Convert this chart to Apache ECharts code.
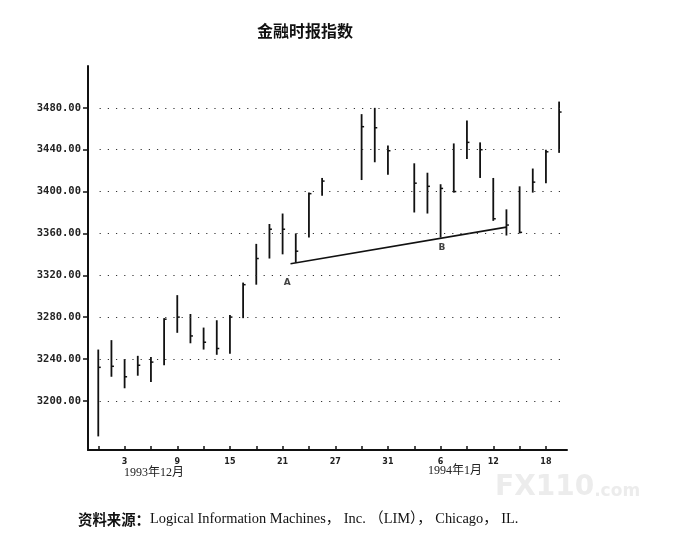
<!DOCTYPE html>
<html>
<head>
<meta charset="utf-8">
<title>金融时报指数</title>
<script src="https://cdn.jsdelivr.net/npm/echarts@6/dist/echarts.min.js"></script>
<style>
  html, body { margin: 0; padding: 0; background: #fff; }
  #main { width: 675px; height: 536px; }
</style>
</head>
<body>
<div id="main"></div>
<script>
// trading-day slots: 0 = 1993-12-01 ... 35 = 1994-01-19 (weekdays, holidays left empty)
var dayIndex = [0, 1, 2, 3, 4, 5, 6, 7, 8, 9, 10, 11, 12, 13, 14, 15, 16, 17,
                20, 21, 22, 24, 25, 26, 27, 28, 29, 30, 31, 32, 33, 34, 35];
var highs  = [3249, 3258, 3240, 3243, 3242, 3279, 3301, 3283, 3270, 3277, 3282, 3313, 3350, 3369, 3379, 3360, 3399, 3413,
              3474, 3480, 3444, 3427, 3418, 3407, 3446, 3468, 3447, 3413, 3383, 3405, 3422, 3440, 3486];
var lows   = [3166, 3223, 3212, 3224, 3218, 3234, 3265, 3255, 3249, 3244, 3245, 3279, 3311, 3336, 3340, 3332, 3356, 3396,
              3411, 3428, 3416, 3380, 3379, 3356, 3399, 3431, 3413, 3372, 3358, 3360, 3399, 3408, 3437];
var closes = [3232, 3233, 3223, 3234, 3237, 3278, 3280, 3262, 3256, 3250, 3280, 3311, 3336, 3364, 3364, 3343, 3398, 3410,
              3462, 3461, 3439, 3408, 3405, 3403, 3400, 3447, 3440, 3374, 3368, 3361, 3409, 3438, 3476];

var xTickSlots = [0, 2, 4, 6, 8, 10, 12, 14, 16, 18, 20, 22, 24, 26, 28, 30, 32, 34];
var xLabelSlots = [2, 6, 10, 14, 18, 22, 26, 30, 34];
var xLabelTexts = ['3', '9', '15', '21', '27', '31', '6', '12', '18'];
var yTicks = [3200, 3240, 3280, 3320, 3360, 3400, 3440, 3480];

var trendLine = [[14.6, 3331], [31, 3366]];
var pointNames = ['A', 'B'];
var pointPos = [[14.35, 3313], [26.1, 3346]];

var barData = [];
for (var i = 0; i < dayIndex.length; i++) {
    barData.push([dayIndex[i], highs[i], lows[i], closes[i]]);
}

var myChart = echarts.init(document.getElementById('main'));

var option = {
    backgroundColor: '#fff',
    animation: false,
    title: {
        text: '金融时报指数',
        left: 300,
        top: 18,
        textAlign: 'center',
        textStyle: {
            fontFamily: 'Noto Sans CJK SC',
            fontSize: 16,
            fontWeight: 'bold',
            color: '#111'
        }
    },
    grid: {
        left: 88,
        top: 66,
        right: 108,
        bottom: 86
    },
    xAxis: {
        type: 'value',
        min: -0.78,
        max: 35.6,
        axisLine: { onZero: false, lineStyle: { color: '#111', width: 2 } },
        axisTick: {
            inside: true,
            length: 4,
            customValues: xTickSlots,
            lineStyle: { color: '#111', width: 1.5 }
        },
        axisLabel: {
            customValues: xLabelSlots,
            margin: 8,
            fontFamily: 'DejaVu Sans',
            fontSize: 8,
            fontWeight: 'bold',
            color: '#222',
            formatter: function (v) {
                var k = xLabelSlots.indexOf(Math.round(v));
                return k >= 0 ? xLabelTexts[k] : '';
            }
        },
        splitLine: { show: false }
    },
    yAxis: {
        type: 'value',
        min: 3153,
        max: 3520,
        axisLine: { show: true, onZero: false, lineStyle: { color: '#111', width: 2 } },
        axisTick: {
            show: true,
            length: 5,
            customValues: yTicks,
            lineStyle: { color: '#111', width: 1.5 }
        },
        axisLabel: {
            customValues: yTicks,
            margin: 7,
            fontFamily: 'DejaVu Sans Mono',
            fontSize: 10.5,
            fontWeight: 'bold',
            color: '#222',
            formatter: function (v) { return v.toFixed(2); }
        },
        splitLine: { show: false }
    },
    series: [
        {
            name: 'FT',
            type: 'custom',
            data: barData,
            renderItem: function (params, api) {
                var x = api.value(0);
                var hi = api.coord([x, api.value(1)]);
                var lo = api.coord([x, api.value(2)]);
                var cl = api.coord([x, api.value(3)]);
                return {
                    type: 'group',
                    children: [
                        {
                            type: 'line',
                            shape: { x1: hi[0], y1: hi[1], x2: lo[0], y2: lo[1] },
                            style: { stroke: '#111', lineWidth: 1.8 }
                        },
                        {
                            type: 'line',
                            shape: { x1: cl[0], y1: cl[1], x2: cl[0] + 2.5, y2: cl[1] },
                            style: { stroke: '#111', lineWidth: 1.5 }
                        }
                    ]
                };
            },
            markLine: {
                silent: true,
                symbol: 'none',
                label: { show: false },
                lineStyle: { color: '#333', width: 1.2, type: [1.2, 7] },
                data: yTicks.map(function (v) {
                    return [{ coord: [0.1, v] }, { coord: [35.2, v] }];
                })
            }
        },
        {
            name: 'trend',
            type: 'line',
            data: trendLine,
            symbol: 'none',
            lineStyle: { color: '#111', width: 1.6 }
        },
        {
            name: 'points',
            type: 'scatter',
            symbolSize: 0,
            data: pointPos.map(function (p, k) { return { value: p, name: pointNames[k] }; }),
            label: {
                show: true,
                position: 'inside',
                formatter: '{b}',
                fontFamily: 'DejaVu Sans',
                fontSize: 9,
                fontWeight: 'bold',
                color: '#111'
            }
        }
    ],
    graphic: [
        {
            type: 'text',
            left: 124,
            top: 467,
            style: {
                text: '1993年12月',
                font: '12px "Liberation Serif", "Noto Sans CJK SC"',
                fill: '#222'
            }
        },
        {
            type: 'text',
            left: 428,
            top: 465,
            style: {
                text: '1994年1月',
                font: '12px "Liberation Serif", "Noto Sans CJK SC"',
                fill: '#222'
            }
        },
        {
            type: 'text',
            left: 495,
            top: 474,
            style: {
                text: '{a|FX110}{b|.com}',
                rich: {
                    a: { fontFamily: 'DejaVu Sans', fontSize: 28, fontWeight: 'bold', fill: '#ececec' },
                    b: { fontFamily: 'DejaVu Sans', fontSize: 17, fontWeight: 'bold', fill: '#ececec', padding: [8, 0, 0, 0] }
                }
            }
        },
        {
            type: 'text',
            left: 78,
            top: 512,
            style: {
                text: '{a|资料来源：}{b|Logical Information Machines， Inc. （LIM）， Chicago， IL.}',
                rich: {
                    a: { fontFamily: 'Noto Sans CJK SC', fontSize: 14.4, fontWeight: 'bold', fill: '#111' },
                    b: { fontFamily: '"Liberation Serif", "Noto Sans CJK SC"', fontSize: 14.4, fill: '#111' }
                }
            }
        }
    ]
};

myChart.setOption(option);
</script>
</body>
</html>
